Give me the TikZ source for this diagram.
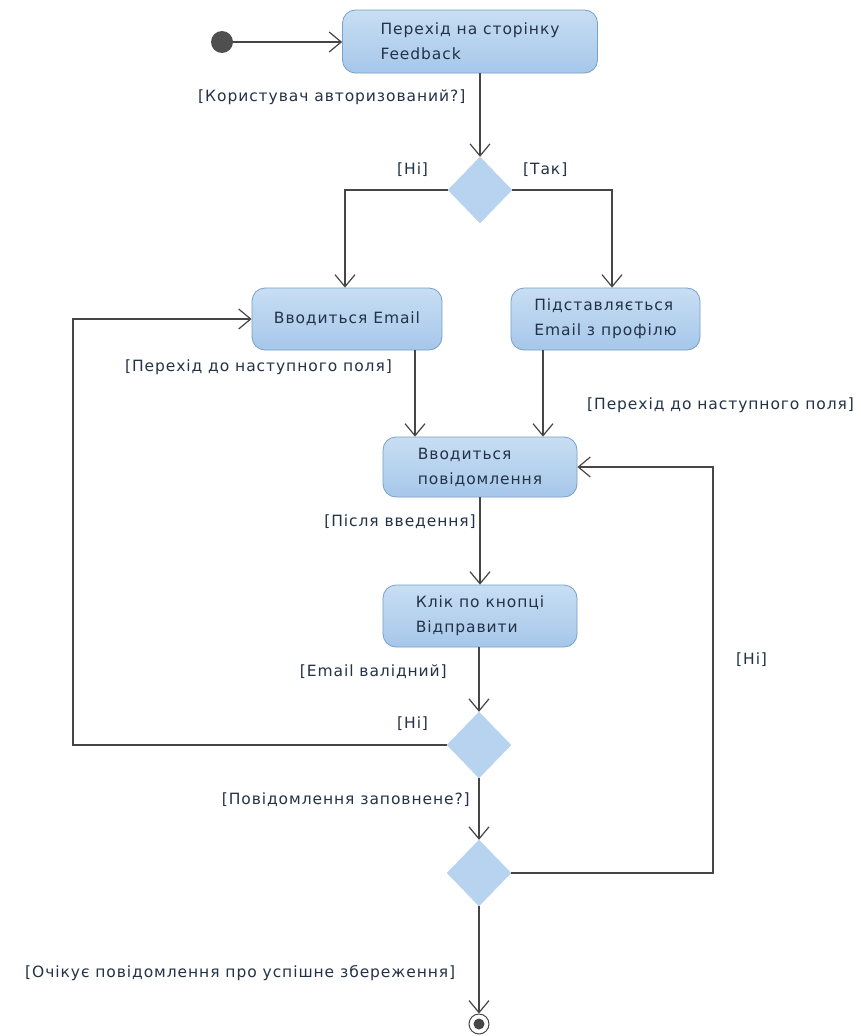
\documentclass[tikz,border=0pt]{standalone}
\usepackage{fontspec}
\setmainfont[LetterSpace=6]{DejaVu Sans}
\usetikzlibrary{shapes.geometric,arrows.meta}
\definecolor{boxtop}{RGB}{200,222,243}
\definecolor{boxbot}{RGB}{166,199,234}
\definecolor{boxline}{RGB}{120,160,200}
\definecolor{decfill}{RGB}{183,211,240}
\definecolor{inkline}{RGB}{70,70,70}
\definecolor{inktext}{RGB}{35,50,70}
\tikzset{
  actbox/.style={draw=boxline, line width=0.8pt, rounded corners=13pt,
    top color=boxtop, bottom color=boxbot, align=left, inner sep=0pt,
    font=\fontsize{15.5}{25}\selectfont, text=inktext},
  decision/.style={diamond, draw=decfill, fill=decfill, inner sep=0pt,
    minimum width=64pt, minimum height=66pt},
  flow/.style={draw=inkline, line width=1.3pt,
    -{Straight Barb[length=12pt,width=20pt,line width=1.2pt]}},
  guard/.style={anchor=west, inner sep=0pt, text=inktext,
    font=\fontsize{15.5}{17}\selectfont}
}
\begin{document}
\begin{tikzpicture}[x=1pt,y=-1pt]
\path[use as bounding box, fill=white] (0,0) rectangle (861,1036);

% start and end
\node[circle, fill=inkline!95, inner sep=0pt, minimum size=22pt] (start) at (222,42) {};
\node[circle, draw=inkline, line width=1pt, fill=white, inner sep=0pt, minimum size=20pt] (stop) at (479,1024) {};
\node[circle, fill=inkline, inner sep=0pt, minimum size=11pt] (stopdot) at (stop) {};

% actions
\node[actbox, minimum width=255pt, minimum height=63pt] (b1) at (470,41.5) {Перехід на сторінку\\Feedback};
\node[actbox, minimum width=190pt, minimum height=62pt] (b2) at (347,319) {Вводиться Email};
\node[actbox, minimum width=189pt, minimum height=62pt] (b3) at (605.5,319) {Підставляється\\Email з профілю};
\node[actbox, minimum width=194pt, minimum height=60pt] (b4) at (480,467) {Вводиться\\повідомлення};
\node[actbox, minimum width=194pt, minimum height=62pt] (b5) at (480,616) {Клік по кнопці\\Відправити};

% decisions
\node[decision] (d1) at (480,190) {};
\node[decision] (d2) at (479,745) {};
\node[decision] (d3) at (479,873) {};

% loop corners
\coordinate (lc) at (73,745);
\coordinate (rc) at (713,873);

% connectors
\draw[flow] (start.east) -- (b1.west |- start);
\draw[flow] (b1.south -| d1) -- (d1.north);
\draw[flow] (d1.west) -| ([xshift=-2pt]b2.north);
\draw[flow] (d1.east) -| ([xshift=6.5pt]b3.north);
\draw[flow] ([xshift=68pt]b2.south) coordinate (p2) -- (p2 |- b4.north);
\draw[flow] ([xshift=-62.5pt]b3.south) coordinate (p3) -- (p3 |- b4.north);
\draw[flow] (b4.south) -- (b5.north);
\draw[flow] (b5.south -| d2) -- (d2.north);
\draw[flow] (d2.west) -- (lc) |- (b2.west);
\draw[flow] (d2.south) -- (d3.north);
\draw[flow] (d3.east) -- (rc) |- (b4.east);
\draw[flow] (d3.south) -- (stop.north);

% guards
\node[guard] (g1) at (198,97) {[Користувач авторизований?]};
\node[guard] (g2) at (397,170) {[Ні]};
\node[guard] (g3) at (523,170) {[Так]};
\node[guard, anchor=east] (g4) at (392,367) {[Перехід до наступного поля]};
\node[guard] (g5) at (587,405) {[Перехід до наступного поля]};
\node[guard, anchor=east] (g6) at (476,522) {[Після введення]};
\node[guard, anchor=east] (g7) at (447,672) {[Email валідний]};
\node[guard] (g8) at (397,724) {[Ні]};
\node[guard, anchor=east] (g9) at (470,800) {[Повідомлення заповнене?]};
\node[guard] (g10) at (736,660) {[Ні]};
\node[guard] (g11) at (25,973) {[Очікує повідомлення про успішне збереження]};
\end{tikzpicture}
\end{document}
